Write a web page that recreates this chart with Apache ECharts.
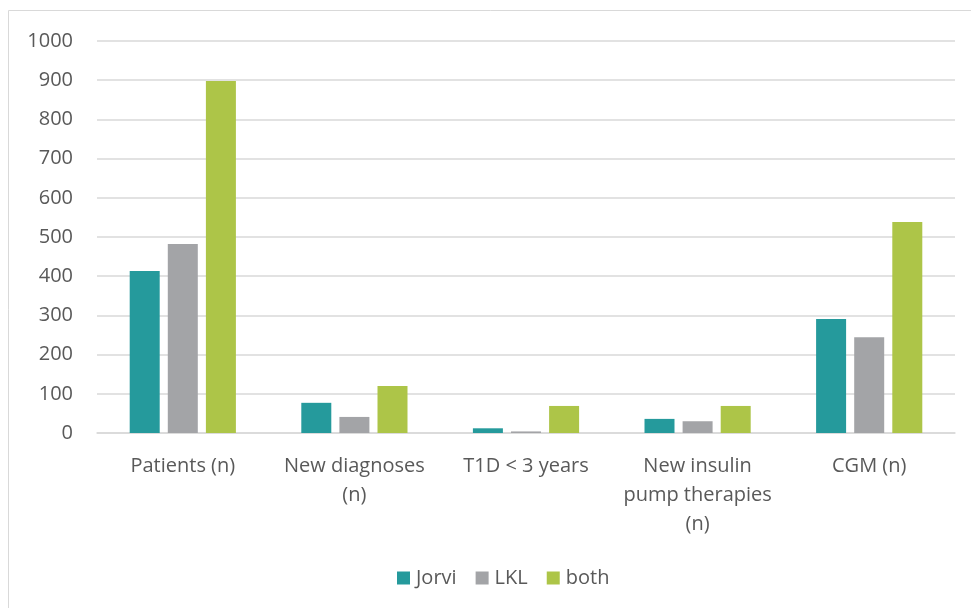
<!DOCTYPE html>
<html>
<head>
<meta charset="utf-8">
<script src="https://cdn.jsdelivr.net/npm/echarts@6/dist/echarts.min.js"></script>
<style>
  html, body { margin: 0; padding: 0; background: #fff; }
  #main { width: 971px; height: 608px; }
</style>
</head>
<body>
<div id="main"></div>
<script>
// data
let categories = ['Patients (n)', 'New diagnoses\n(n)', 'T1D < 3 years', 'New insulin\npump therapies\n(n)', 'CGM (n)'];
let jorvi = [413, 77, 12, 36, 291];
let lkl = [482, 41, 4, 30, 244];
let both = [898, 120, 69, 69, 538];
let yTicks = [0, 100, 200, 300, 400, 500, 600, 700, 800, 900, 1000];

let font = '"Open Sans", "Noto Sans", sans-serif';
let textColor = '#595959';

function makeSeries(name, values, color) {
    return {
        name: name,
        type: 'bar',
        data: values,
        barWidth: 30,
        barGap: '27%',
        itemStyle: { color: color },
        emphasis: { disabled: true }
    };
}

let options = {
    animation: false,
    graphic: [{
        type: 'rect',
        shape: { x: 8.5, y: 10.5, width: 1000, height: 700 },
        style: { fill: 'none', stroke: '#d9d9d9', lineWidth: 1 },
        silent: true
    }],
    grid: { left: 97, right: 16, top: 41, bottom: 175 },
    legend: {
        top: 563,
        left: 392,
        itemWidth: 13,
        itemHeight: 13,
        itemGap: 19,
        icon: 'rect',
        textStyle: { color: textColor, fontSize: 20, fontFamily: font, padding: [0, 0, 0, 1] },
        data: ['Jorvi', 'LKL', 'both']
    },
    xAxis: {
        type: 'category',
        data: categories,
        axisLine: { lineStyle: { color: '#d9d9d9', width: 1.5 } },
        axisTick: { show: false },
        axisLabel: {
            color: textColor,
            fontSize: 20,
            fontFamily: font,
            margin: 19,
            lineHeight: 29,
            interval: 0
        }
    },
    yAxis: {
        type: 'value',
        min: yTicks[0],
        max: yTicks[yTicks.length - 1],
        interval: 100,
        axisLine: { show: false },
        axisTick: { show: false },
        splitLine: { lineStyle: { color: '#d9d9d9', width: 1.5 } },
        axisLabel: {
            color: textColor,
            fontSize: 20,
            fontFamily: font,
            margin: 24,
            formatter: v => String(v)
        }
    },
    series: [
        makeSeries('Jorvi', jorvi, '#259a9c'),
        makeSeries('LKL', lkl, '#a3a4a7'),
        makeSeries('both', both, '#adc548')
    ]
};

let myChart = echarts.init(document.getElementById('main'));
myChart.setOption(options);
</script>
</body>
</html>
